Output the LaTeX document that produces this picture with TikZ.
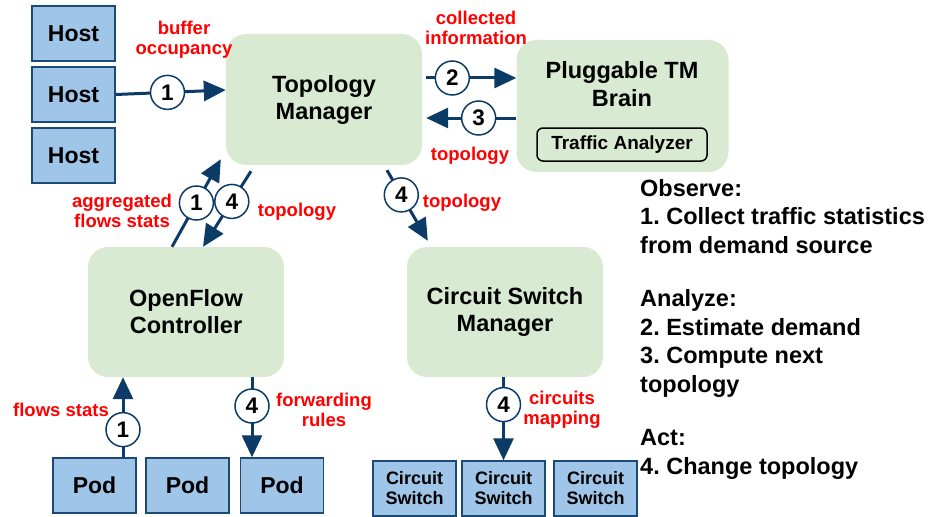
\documentclass[tikz,border=0pt]{standalone}
\usepackage{fontspec}
\setmainfont{Liberation Sans}
\usetikzlibrary{arrows.meta}
\frenchspacing

\definecolor{boxblue}{HTML}{9FC5E8}
\definecolor{edgeblue}{HTML}{1C4A75}
\definecolor{flowblue}{HTML}{0B3B66}
\definecolor{mgrgreen}{HTML}{D9EAD3}
\definecolor{lblred}{HTML}{FF0000}

\tikzset{
  flow/.style={draw=flowblue, line width=3pt, -{Triangle[length=22pt,width=20pt]}},
  num/.style={circle, draw=flowblue, line width=1.5pt, fill=white, minimum size=34pt,
    inner sep=0pt, font=\bfseries\fontsize{22.5}{22.5}\selectfont},
  lbl/.style={text=lblred, align=center, inner sep=0pt, font=\bfseries\fontsize{18.5}{20}\selectfont},
  devbox/.style={draw=edgeblue, fill=boxblue, line width=1.5pt, minimum width=83pt,
    minimum height=55pt, inner sep=0pt, align=center},
  bigdev/.style={devbox, font=\bfseries\fontsize{23}{27}\selectfont},
  smalldev/.style={devbox, font=\bfseries\fontsize{18}{20}\selectfont},
  manager/.style={fill=mgrgreen, rounded corners=20pt, minimum width=196pt, minimum height=131pt,
    inner sep=0pt, align=center, font=\bfseries\fontsize{23.5}{27}\selectfont},
}

\begin{document}
\begin{tikzpicture}[x=1pt, y=-1pt]
\useasboundingbox (0,0) rectangle (933,516);

% hosts
\node[bigdev] (host1) at (73.5,33.5) {Host};
\node[bigdev] (host2) at (73.5,94.5) {Host};
\node[bigdev] (host3) at (73.5,155.5) {Host};

% managers and controller
\node[manager] (tm) at (324,99.5) {Topology\\Manager};
\node[manager, minimum width=212pt, minimum height=132pt] (brain) at (622.5,106) {};
\node[align=center, inner sep=0pt, font=\bfseries\fontsize{23.5}{28}\selectfont] (braintxt) at (622,84.5) {Pluggable TM\\Brain};
\node[draw=black, line width=1.5pt, rounded corners=6pt, minimum width=170pt, minimum height=33pt,
  inner sep=0pt, font=\bfseries\fontsize{19}{20}\selectfont] (ta) at (622,144.5) {Traffic Analyzer};
\node[manager, minimum height=130pt] (ofc) at (186,312) {OpenFlow\\Controller};
\node[manager, minimum height=130pt] (csm) at (505,312) {Circuit Switch\\Manager};

% pods
\node[bigdev] (pod1) at (94.5,485.5) {Pod};
\node[bigdev] (pod2) at (187.5,485.5) {Pod};
\node[bigdev] (pod3) at (282,485.5) {Pod};

% circuit switches
\node[smalldev] (cs1) at (414.5,488.5) {Circuit\\Switch};
\node[smalldev] (cs2) at (503.5,488.5) {Circuit\\Switch};
\node[smalldev] (cs3) at (595.5,488.5) {Circuit\\Switch};

% host -> topology manager
\draw[flow] (host2.east) -- node[num, pos=0.47] (n1a) {1} (tm.west |- 0,90);

% topology manager <-> brain
\draw[flow, shorten <=4pt] (tm.east |- 0,78) -- node[num, pos=0.32] (n2) {2} (brain.west |- 0,78);
\draw[flow, shorten >=4pt] (brain.west |- 0,118) -- node[num, pos=0.4] (n3) {3} (tm.east |- 0,118);

% openflow controller <-> topology manager
\draw[flow] ([xshift=-14pt]ofc.north) -- node[num, pos=0.5] (n1b) {1} ([xshift=-5pt,yshift=6pt]tm.south west);
\draw[flow] ([xshift=-73pt,yshift=-6pt]tm.south) -- node[num, pos=0.4] (n4a) {4} ([xshift=17pt]ofc.north);

% topology manager -> circuit switch manager
\draw[flow] ([xshift=63pt,yshift=-5pt]tm.south) -- node[num, pos=0.35] (n4b) {4} ([xshift=21pt,yshift=6pt]csm.north west);

% pods <-> openflow controller
\coordinate (p1top) at ([xshift=28.5pt]pod1.north);
\draw[flow] (p1top) -- node[num, pos=0.345] (n1c) {1} (p1top |- ofc.south);
\coordinate (p3top) at ([xshift=-30pt]pod3.north);
\draw[flow] (p3top |- ofc.south) -- node[num, pos=0.36] (n4c) {4} (p3top);

% circuit switch manager -> circuit switch
\draw[flow] (cs2.north |- csm.south) -- node[num, pos=0.33] (n4d) {4} (cs2.north);

% red labels
\node[lbl] (lbuf) at (184,40) {buffer\\occupancy};
\node[lbl] (lcol) at (476,28) {collected\\information};
\node[lbl] (ltop1) at (470,156) {topology};
\node[lbl] (lagg) at (122,211) {aggregated\\flows stats};
\node[lbl] (ltop2) at (297,212) {topology};
\node[lbl] (ltop3) at (462,203) {topology};
\node[lbl] (lflow) at (61,410) {flows stats};
\node[lbl] (lfwd) at (324,410) {forwarding\\rules};
\node[lbl] (lcirc) at (562,410) {circuits\\mapping};

% control loop description
\node[anchor=north west, align=left, inner sep=0pt, font=\bfseries\fontsize{23.5}{28.5}\selectfont] (loop) at (640,179)
  {Observe:\\1. Collect traffic statistics\\from demand source\\[25pt]
   Analyze:\\2. Estimate demand\\3. Compute next\\topology\\[25pt]
   Act:\\4. Change topology};
\end{tikzpicture}
\end{document}
